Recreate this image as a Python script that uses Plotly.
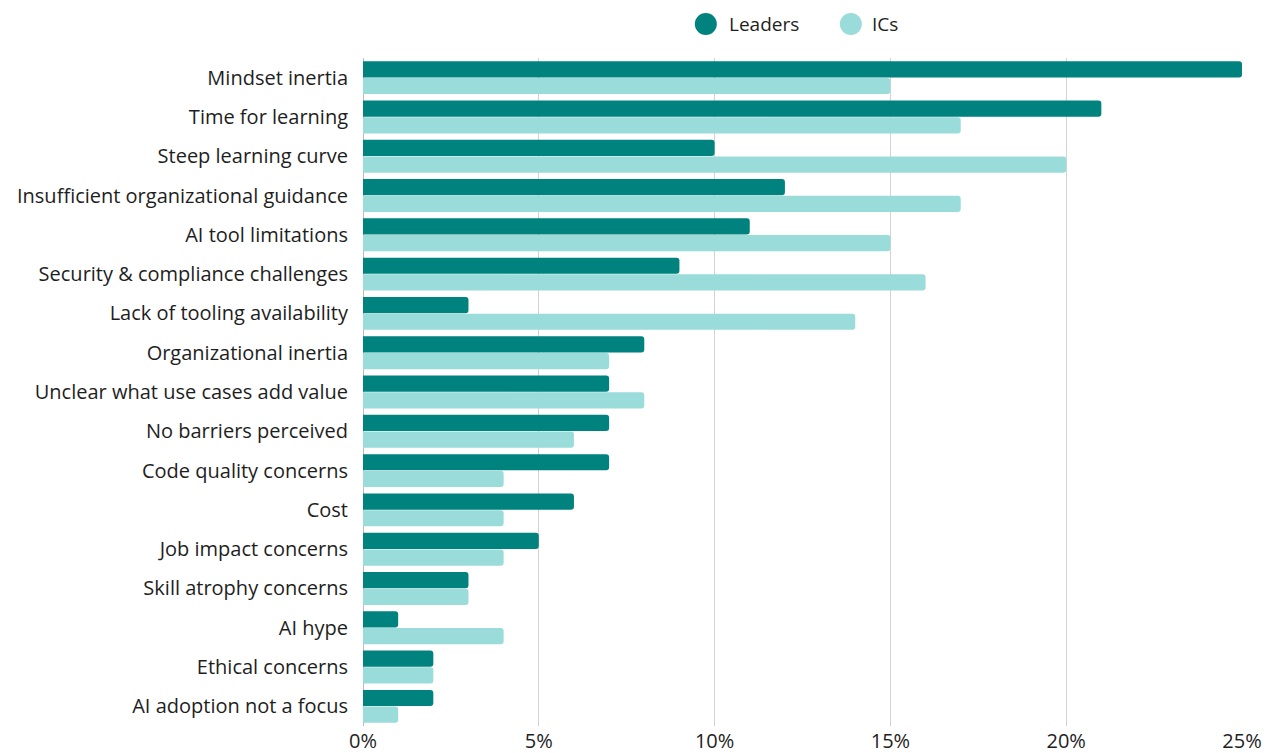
import plotly.graph_objects as go

categories = [
    "Mindset inertia", "Time for learning", "Steep learning curve",
    "Insufficient organizational guidance", "AI tool limitations",
    "Security & compliance challenges", "Lack of tooling availability",
    "Organizational inertia", "Unclear what use cases add value",
    "No barriers perceived", "Code quality concerns", "Cost",
    "Job impact concerns", "Skill atrophy concerns", "AI hype",
    "Ethical concerns", "AI adoption not a focus",
]
leaders = [25, 21, 10, 12, 11, 9, 3, 8, 7, 7, 7, 6, 5, 3, 1, 2, 2]
ics = [15, 17, 20, 17, 15, 16, 14, 7, 8, 6, 4, 4, 4, 3, 4, 2, 1]
x_ticks = [0, 5, 10, 15, 20, 25]
series_names = ["Leaders", "ICs"]

DARK = "#00827F"
LIGHT = "#9ADCDA"
FONT = "Open Sans"
TXT = "#1E1E1E"
FS = 20

fig = go.Figure()
fig.add_trace(go.Bar(y=categories, x=leaders, orientation="h", name=series_names[0],
                     marker=dict(color=DARK, line=dict(width=0)), showlegend=False))
fig.add_trace(go.Bar(y=categories, x=ics, orientation="h", name=series_names[1],
                     marker=dict(color=LIGHT, line=dict(width=0)), showlegend=False))

# custom legend (circle swatches + labels) above the plot
legend_y = 1.051
for cx, tx, color, name in [(0.390, 0.4141, DARK, series_names[0]),
                            (0.555, 0.5768, LIGHT, series_names[1])]:
    fig.add_shape(type="circle", xref="paper", yref="paper",
                  xsizemode="pixel", ysizemode="pixel",
                  xanchor=cx, yanchor=legend_y,
                  x0=-11, x1=11, y0=-11, y1=11,
                  fillcolor=color, line=dict(width=0))
    fig.add_annotation(x=tx, y=legend_y, xref="paper", yref="paper",
                       text=name, showarrow=False, xanchor="left", yanchor="middle",
                       font=dict(family=FONT, size=19, color=TXT))

fig.update_layout(
    width=1270, height=753,
    margin=dict(l=363, r=28, t=58, b=27),
    paper_bgcolor="white", plot_bgcolor="white",
    barmode="group", bargap=0.15, bargroupgap=0.03,
    barcornerradius=3,
    font=dict(family=FONT, size=FS, color=TXT),
    showlegend=False,
    xaxis=dict(range=[0, 25], tickvals=x_ticks, ticktext=[f"{v}%" for v in x_ticks],
               showgrid=True, gridcolor="#D3D3D3", gridwidth=1,
               zeroline=True, zerolinecolor="#BBBBBB", zerolinewidth=1,
               showline=False, ticks="", tickfont=dict(size=FS),
               automargin=False, ticklabelstandoff=1),
    yaxis=dict(autorange="reversed", showgrid=False, ticks="", ticklabelstandoff=14,
               tickfont=dict(size=FS), automargin=False),
)

fig.write_html("out.html")
